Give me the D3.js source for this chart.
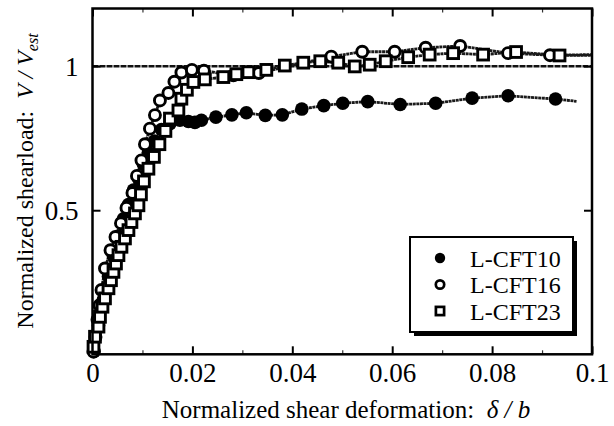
<!DOCTYPE html>
<html><head><meta charset="utf-8">
<script src="https://cdn.jsdelivr.net/npm/d3@7"></script>
<style>
html,body{margin:0;padding:0;background:#fff;}
svg{display:block;font-family:"Liberation Serif","Times New Roman",serif;}
svg text{font-family:"Liberation Serif","Times New Roman",serif;}
</style></head>
<body><svg id="chart" width="614" height="426"></svg>
<script>
// ---- data ----
const seriesNames = ["L-CFT10", "L-CFT16", "L-CFT23"];

const cft10X = [0.0003,0.0012,0.0022,0.0032,0.0042,0.0052,0.0062,0.0072,0.0082,0.0092,0.0102,0.0112,0.0124,0.0138,0.0155,0.0175,0.0192,0.0205,0.0218,0.0247,0.0279,0.0308,0.0346,0.0380,0.0419,0.0463,0.0501,0.0551,0.0616,0.0687,0.0760,0.0832,0.0927];
const cft10Y = [0.01,0.10,0.19,0.27,0.34,0.41,0.47,0.52,0.57,0.61,0.66,0.70,0.74,0.78,0.80,0.812,0.808,0.805,0.812,0.823,0.831,0.838,0.829,0.831,0.851,0.863,0.871,0.877,0.867,0.871,0.889,0.897,0.886];
const cft10TailX = [0.0969];
const cft10TailY = [0.878];

const cft16X = [0.0002,0.0006,0.0010,0.0014,0.0018,0.0025,0.0036,0.0046,0.0057,0.0068,0.0080,0.0089,0.0098,0.0105,0.0115,0.0125,0.0135,0.0152,0.0164,0.0178,0.0199,0.0223,0.0282,0.0333,0.0478,0.0540,0.0605,0.0667,0.0736,0.0832,0.0916];
const cft16Y = [0.009,0.06,0.12,0.17,0.223,0.298,0.361,0.407,0.455,0.508,0.560,0.619,0.673,0.729,0.783,0.830,0.881,0.907,0.946,0.978,0.987,0.984,0.968,0.976,1.033,1.050,1.050,1.064,1.070,1.045,1.038];
const cft16TailX = [0.1];
const cft16TailY = [1.040];

const cft23X = [0.0002,0.0005,0.0012,0.0015,0.0020,0.0025,0.0032,0.0037,0.0042,0.0047,0.0052,0.0058,0.0065,0.0072,0.0078,0.0085,0.0092,0.0097,0.0103,0.0112,0.0123,0.0134,0.0146,0.0155,0.0172,0.0178,0.0189,0.0202,0.0225,0.0262,0.0288,0.0312,0.0348,0.0385,0.0422,0.0456,0.0492,0.0525,0.0555,0.0587,0.0632,0.0675,0.0722,0.0782,0.0848,0.0935];
const cft23Y = [0.026,0.061,0.096,0.130,0.165,0.194,0.229,0.257,0.286,0.315,0.344,0.373,0.402,0.431,0.459,0.489,0.517,0.555,0.600,0.644,0.685,0.729,0.775,0.818,0.846,0.887,0.918,0.945,0.954,0.962,0.972,0.979,0.987,1.002,1.012,1.017,1.012,0.999,1.005,1.017,1.031,1.040,1.045,1.040,1.049,1.037];
const cft23TailX = [0.1];
const cft23TailY = [1.037];

const xTicks = [0, 0.02, 0.04, 0.06, 0.08, 0.1];
const xMinorTicks = [0.01, 0.03, 0.05, 0.07, 0.09];
const yTicks = [0.5, 1];
const refLineY = 1;

// ---- layout ----
const FONT = "'Liberation Serif','Times New Roman',serif";
const svg = d3.select("#chart");
const x = d3.scaleLinear().domain([0, 0.1]).range([92.5, 592]);
const y = d3.scaleLinear().domain([0, 1.2]).range([354.3, 8.5]);
const [x0, x1] = x.range();
const [yb, yt] = y.range();

// reference line
svg.append("line")
  .attr("x1", x(0)).attr("x2", x(0.1))
  .attr("y1", y(refLineY)).attr("y2", y(refLineY))
  .attr("stroke", "#111").attr("stroke-width", 2.5)
  .attr("stroke-dasharray", "6,1");

// ticks (inward)
const fmt = d => d === 0 ? "0" : String(+d.toFixed(2));
const gB = svg.append("g").attr("transform", `translate(0,${yb})`)
  .call(d3.axisBottom(x).tickValues(xTicks).tickSizeInner(-8).tickSizeOuter(0).tickPadding(9).tickFormat(fmt));
const gBm = svg.append("g").attr("transform", `translate(0,${yb})`)
  .call(d3.axisBottom(x).tickValues(xMinorTicks).tickSizeInner(-4).tickSizeOuter(0).tickFormat(""));
const gT = svg.append("g").attr("transform", `translate(0,${yt})`)
  .call(d3.axisTop(x).tickValues(xTicks).tickSizeInner(-8).tickSizeOuter(0).tickFormat(""));
const gTm = svg.append("g").attr("transform", `translate(0,${yt})`)
  .call(d3.axisTop(x).tickValues(xMinorTicks).tickSizeInner(-4).tickSizeOuter(0).tickFormat(""));
const gL = svg.append("g").attr("transform", `translate(${x0},0)`)
  .call(d3.axisLeft(y).tickValues(yTicks).tickSizeInner(-8).tickSizeOuter(0).tickPadding(14).tickFormat(fmt));
const gR = svg.append("g").attr("transform", `translate(${x1},0)`)
  .call(d3.axisRight(y).tickValues(yTicks).tickSizeInner(-8).tickSizeOuter(0).tickFormat(""));
[gB, gBm, gT, gTm, gL, gR].forEach(g => {
  g.attr("font-family", FONT).attr("font-size", 27);
  g.select(".domain").remove();
  g.selectAll(".tick line").attr("stroke", "#000").attr("stroke-width", 2);
  g.selectAll("text").attr("font-family", FONT).attr("font-size", 27).attr("fill", "#000");
});
gBm.selectAll(".tick line").attr("stroke-width", 1.2).attr("stroke", "#333");
gTm.selectAll(".tick line").attr("stroke-width", 1.2).attr("stroke", "#333");
gL.selectAll("text").attr("dy", "0.34em");

// series
const line = d3.line().x(d => x(d[0])).y(d => y(d[1]));
function pts(xs, ys) { return xs.map((v, i) => [v, ys[i]]); }
const series = [
  { name: seriesNames[0], pts: pts(cft10X, cft10Y), tail: pts(cft10TailX, cft10TailY), type: "filled" },
  { name: seriesNames[1], pts: pts(cft16X, cft16Y), tail: pts(cft16TailX, cft16TailY), type: "circle" },
  { name: seriesNames[2], pts: pts(cft23X, cft23Y), tail: pts(cft23TailX, cft23TailY), type: "square" }
];
series.forEach(s => {
  svg.append("path").datum(s.pts.concat(s.tail))
    .attr("d", line).attr("fill", "none")
    .attr("stroke", "#1a1a1a").attr("stroke-width", 2.8)
    .attr("stroke-dasharray", "3,0.6");
});
function drawMarker(g, type, cx, cy, big) {
  if (type === "filled") {
    g.append("circle").attr("cx", cx).attr("cy", cy).attr("r", big ? 6.8 : 5.2).attr("fill", "#000");
  } else if (type === "circle") {
    g.append("circle").attr("cx", cx).attr("cy", cy).attr("r", big ? 5.5 : 4.2)
      .attr("fill", "#fff").attr("stroke", "#000").attr("stroke-width", big ? 2.9 : 2.7);
  } else {
    const h = big ? 5.4 : 4.1;
    g.append("rect").attr("x", cx - h).attr("y", cy - h).attr("width", 2 * h).attr("height", 2 * h)
      .attr("fill", "#fff").attr("stroke", "#000").attr("stroke-width", big ? 2.9 : 2.7);
  }
}
series.forEach(s => {
  const g = svg.append("g");
  s.pts.forEach(p => drawMarker(g, s.type, x(p[0]), y(p[1]), true));
});

// frame
svg.append("rect").attr("x", x0).attr("y", yt).attr("width", x1 - x0).attr("height", yb - yt)
  .attr("fill", "none").attr("stroke", "#000").attr("stroke-width", 2.5);

// legend
const lg = svg.append("g").attr("font-family", FONT);
lg.append("rect").attr("x", 414).attr("y", 241).attr("width", 163).attr("height", 95).attr("fill", "#000");
lg.append("rect").attr("x", 410).attr("y", 237).attr("width", 163).attr("height", 95)
  .attr("fill", "#fff").attr("stroke", "#000").attr("stroke-width", 2);
series.forEach((s, i) => {
  const cy = 258 + i * 26.5;
  drawMarker(lg, s.type, 440, cy, false);
  lg.append("text").attr("x", 470).attr("y", cy + 8.5).attr("font-size", 24).attr("font-family", FONT).text(s.name);
});

// axis titles
svg.append("text").attr("x", 346).attr("y", 418).attr("text-anchor", "middle")
  .attr("font-family", FONT).attr("font-size", 25).attr("xml:space", "preserve")
  .call(t => {
    t.append("tspan").text("Normalized shear deformation:  ");
    t.append("tspan").attr("font-style", "italic").text("δ / b");
  });
svg.append("text").attr("transform", "translate(33,181) rotate(-90)").attr("text-anchor", "middle")
  .attr("font-family", FONT).attr("font-size", 24).attr("xml:space", "preserve")
  .call(t => {
    t.append("tspan").text("Normalized shearload:  ");
    t.append("tspan").attr("font-style", "italic").text("V / V");
    t.append("tspan").attr("font-style", "italic").attr("font-size", 16).attr("dy", 5).text("est");
  });
</script></body></html>
